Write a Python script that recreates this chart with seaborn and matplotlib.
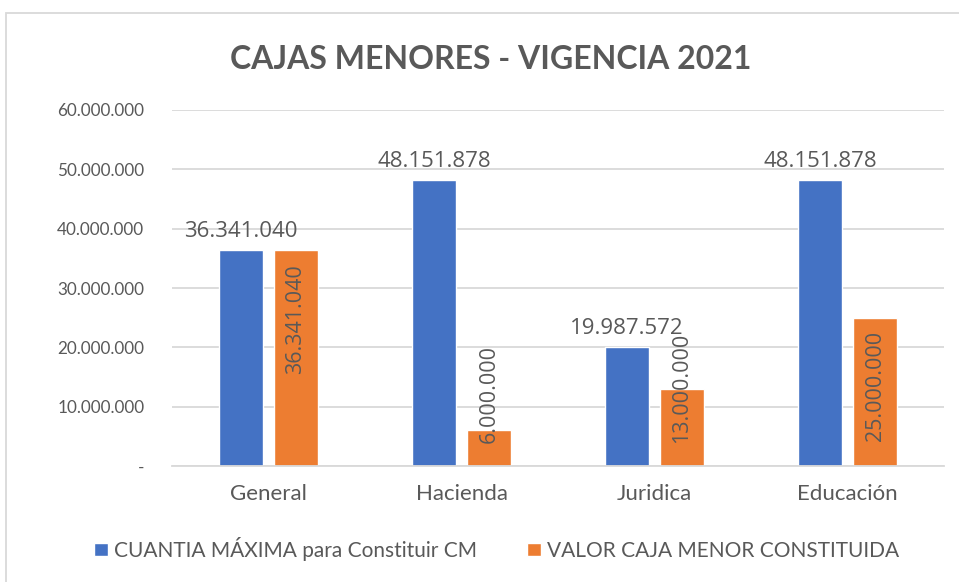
import matplotlib
matplotlib.use("Agg")
import matplotlib.pyplot as plt
import matplotlib.ticker as mticker
from matplotlib.patches import Rectangle
import seaborn as sns
import pandas as pd

categorias = ["General", "Hacienda", "Juridica", "Educación"]
cuantia_maxima = [36341040, 48151878, 19987572, 48151878]
valor_constituida = [36341040, 6000000, 13000000, 25000000]
series = ["CUANTIA MÁXIMA para Constituir CM", "VALOR CAJA MENOR CONSTITUIDA"]
y_ticks = [0, 10000000, 20000000, 30000000, 40000000, 50000000, 60000000]

df = pd.DataFrame({
    "categoria": categorias * 2,
    "serie": [series[0]] * 4 + [series[1]] * 4,
    "valor": cuantia_maxima + valor_constituida,
})

GRIS = "#595959"
AZUL = "#4472C4"
NARANJA = "#ED7D31"


def puntos(v):
    # miles con punto, cero como guion (estilo Excel)
    if v == 0:
        return "-"
    return f"{v:,.0f}".replace(",", ".")


sns.set_theme(style="white")
plt.rcParams["font.family"] = ["Lato", "DejaVu Sans"]

fig = plt.figure(figsize=(9.59, 5.82), dpi=100)
ax = fig.add_axes([0.1794, 0.1993, 0.805, 0.6117])

sns.barplot(data=df, x="categoria", y="valor", hue="serie", order=categorias,
            hue_order=series, palette=[AZUL, NARANJA], width=0.57, gap=0.2,
            saturation=1, ax=ax, legend=True)

ax.set_ylim(0, 60000000)
ax.set_yticks(y_ticks)
ax.yaxis.set_major_formatter(mticker.FuncFormatter(lambda v, p: puntos(v)))
ax.grid(axis="y", color="#D9D9D9", linewidth=1.3)
ax.set_axisbelow(True)
for s in ["left", "right", "top"]:
    ax.spines[s].set_visible(False)
ax.spines["bottom"].set_color("#D9D9D9")
ax.spines["bottom"].set_linewidth(1.3)
ax.tick_params(axis="y", length=0, pad=20, labelsize=12.3, labelcolor=GRIS)
ax.tick_params(axis="x", length=0, pad=13, labelsize=16, labelcolor=GRIS)
ax.set_xlabel("")
ax.set_ylabel("")

# etiquetas de la serie azul encima de las barras
ax.bar_label(ax.containers[0], labels=[puntos(v) for v in cuantia_maxima],
             padding=6, fontsize=16, color=GRIS, family="Open Sans")

# etiquetas verticales de la serie naranja dentro de las barras
largo = 18.2e6
for bar, v in zip(ax.containers[1], valor_constituida):
    xc = bar.get_x() + bar.get_width() / 2
    top = v - 2.3e6
    if top - largo < 3.8e6:
        ax.text(xc, 3.8e6, puntos(v), rotation=90, ha="center", va="bottom",
                fontsize=15.5, color=GRIS, family="Open Sans")
    else:
        ax.text(xc, top, puntos(v), rotation=90, ha="center", va="top",
                fontsize=15.5, color=GRIS, family="Open Sans")

fig.text(0.512, 0.897, "CAJAS MENORES - VIGENCIA 2021", ha="center", va="center",
         fontsize=23, fontweight="bold", color=GRIS)

handles, labels = ax.get_legend_handles_labels()
ax.legend_.remove()
fig.legend(handles, labels, loc="center", bbox_to_anchor=(0.518, 0.057), ncol=2,
           frameon=False, fontsize=15, labelcolor=GRIS, handlelength=0.65,
           handleheight=0.65, handletextpad=0.3, columnspacing=2.4)

fig.patches.append(Rectangle((6 / 959, -0.05), 1.2, 1 - 13 / 582 + 0.05,
                             transform=fig.transFigure, fill=False,
                             edgecolor="#D9D9D9", linewidth=1.3))

fig.savefig("out.png", dpi=100)
